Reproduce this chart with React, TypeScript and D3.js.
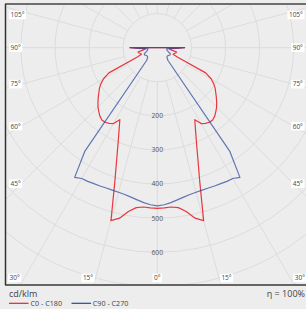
import React from "react";
import * as d3 from "d3";

// ---- data (angle from nadir in degrees, intensity in cd/klm) ----
const redAngles = [0, 2.5, 5, 7.5, 10, 12.5, 15, 17.5, 20, 22.5, 25, 27.5, 30, 32.5, 35, 37.5, 40, 42.5, 45, 47.5, 50, 52.5, 55, 57.5, 60, 62.5, 65, 67.5, 70, 72.5, 75, 77.5, 80, 82.5, 85, 87.5, 90, 92.5];
const redValues = [471, 470, 469, 473, 488, 512, 525, 415, 348, 300, 265, 238, 257, 263, 267, 267, 262, 254, 246, 236, 226, 216, 207, 196, 182, 160, 66, 50, 52, 54, 57, 58, 45, 38, 35, 55, 80, 0];

const blueAngles = [0, 2.5, 5, 7.5, 10, 12.5, 15, 17.5, 20, 22.5, 25, 27.5, 30, 32.5, 35, 40, 42.5, 45, 50, 55, 60, 65, 70, 75, 80, 85, 87.5, 90, 92.5];
const blueValues = [464, 461, 456, 450, 445, 441, 439, 438, 438, 439, 440, 442, 443, 451, 370, 48, 44, 40, 38, 40, 43, 42, 34, 30, 28, 28, 55, 80, 0];

const ringValues = [100, 200, 300, 400, 500, 600, 700, 800, 900, 1000];
const ringLabels = [200, 300, 400, 500, 600];
const spokeAngles = d3.range(0, 360, 15);
const sideLabelAngles = [105, 90, 75, 60, 45];
const bottomLabelAngles = [30, 15, 0];

const seriesNames = ["C0 - C180", "C90 - C270"];
const unitLabel = "cd/klm";
const efficiencyLabel = "η = 100%";

const W = 306;
const H = 309;
const cx = 157.3;
const cy = 47.7;
const frame = { x0: 5.5, y0: 4, x1: 311, y1: 285 };
const RED = "#e8222a";
const BLUE = "#2b479c";
const BG = "#ededed";
const GRID = "#dcdcdc";
const FONT = "'Open Sans', 'DejaVu Sans', sans-serif";

const r = d3.scaleLinear().domain([0, 100]).range([0, 34.1]);

function curvePath(angles: number[], values: number[]) {
  // signed angle: negative = left half (C180 / C270), positive = right half
  const pts: [number, number][] = [];
  for (let i = angles.length - 1; i >= 0; i--) pts.push([-angles[i], values[i]]);
  for (let i = 1; i < angles.length; i++) pts.push([angles[i], values[i]]);
  const line = d3
    .lineRadial<[number, number]>()
    .angle((d) => Math.PI - (d[0] * Math.PI) / 180)
    .radius((d) => r(d[1]))
    .curve(d3.curveLinear);
  return line(pts) || "";
}

function labelWidth(t: string) {
  let w = 0;
  for (const ch of t) w += ch === "°" ? 2.8 : 3.75;
  return w + 3;
}

function AngleLabel({ x, y, text, anchor }: { x: number; y: number; text: string; anchor: "start" | "end" | "middle" }) {
  const w = labelWidth(text);
  const left = anchor === "start" ? x : anchor === "end" ? x - w : x - w / 2;
  return (
    <g>
      <rect x={left} y={y - 4.3} width={w} height={8.6} fill="#ffffff" />
      <text x={left + 1.5} y={y + 2.3} fontSize={6.5} fill="#444" fontFamily={FONT}>
        {text}
      </text>
    </g>
  );
}

export default function App() {
  const rad = (a: number) => (a * Math.PI) / 180;
  const sideD = 136;
  const sideLabels: React.ReactNode[] = [];
  sideLabelAngles.forEach((a) => {
    let y = cy + sideD / Math.tan(rad(a));
    if (a === 90) y = cy;
    y = Math.max(15, y);
    sideLabels.push(<AngleLabel key={"l" + a} x={9} y={y} text={a + "°"} anchor="start" />);
    sideLabels.push(<AngleLabel key={"r" + a} x={304.5} y={y} text={a + "°"} anchor="end" />);
  });
  const bottomLabels: React.ReactNode[] = [];
  bottomLabelAngles.forEach((a) => {
    const dx = (frame.y1 - cy) * Math.tan(rad(a));
    const y = 278;
    if (a === 0) {
      bottomLabels.push(<AngleLabel key={"b0"} x={cx} y={y} text={"0°"} anchor="middle" />);
    } else {
      bottomLabels.push(<AngleLabel key={"bl" + a} x={cx - dx + 1} y={y} text={a + "°"} anchor="end" />);
      bottomLabels.push(<AngleLabel key={"br" + a} x={cx + dx - 1} y={y} text={a + "°"} anchor="start" />);
    }
  });

  return (
    <svg
      width={W}
      height={H}
      style={{ position: "absolute", left: 0, top: 0, display: "block", background: BG }}
    >
      <defs>
        <clipPath id="plotClip">
          <rect x={frame.x0} y={frame.y0} width={frame.x1 - frame.x0} height={frame.y1 - frame.y0} />
        </clipPath>
      </defs>
      <rect x={0} y={0} width={W} height={H} fill={BG} />
      <g clipPath="url(#plotClip)">
        <g transform={`translate(${cx},${cy})`}>
          {ringValues.map((v) => (
            <circle key={v} r={r(v)} fill="none" stroke={GRID} strokeWidth={1} />
          ))}
          {spokeAngles.map((a) => {
            const s = Math.sin(rad(a));
            const c = Math.cos(rad(a));
            return (
              <line
                key={a}
                x1={r(100) * s}
                y1={r(100) * c}
                x2={r(1200) * s}
                y2={r(1200) * c}
                stroke={GRID}
                strokeWidth={1}
              />
            );
          })}
          {ringLabels.map((v) => (
            <text
              key={v}
              x={0}
              y={r(v)}
              dy="0.35em"
              textAnchor="middle"
              fontSize={6.8}
              fill="#555"
              fontFamily={FONT}
            >
              {v}
            </text>
          ))}
          <path d={curvePath(redAngles, redValues)} fill="none" stroke={RED} strokeWidth={1.2} strokeOpacity={0.9} strokeLinejoin="round" />
          <path d={curvePath(blueAngles, blueValues)} fill="none" stroke={BLUE} strokeWidth={1.2} strokeOpacity={0.72} strokeLinejoin="round" />
        </g>
        {sideLabels}
        {bottomLabels}
      </g>
      {/* frame */}
      <line x1={frame.x0 - 0.5} y1={frame.y0} x2={W} y2={frame.y0} stroke="#6e6e6e" strokeWidth={2} />
      <line x1={frame.x0 - 0.5} y1={frame.y1} x2={W} y2={frame.y1} stroke="#666" strokeWidth={2} />
      <line x1={frame.x0} y1={frame.y0} x2={frame.x0} y2={frame.y1} stroke="#333" strokeWidth={1.5} />
      {/* legend */}
      <text x={9} y={297} fontSize={9} fill="#444" fontFamily={FONT}>
        {unitLabel}
      </text>
      <text x={305} y={297} fontSize={9} fill="#444" fontFamily={FONT} textAnchor="end">
        {efficiencyLabel}
      </text>
      <line x1={9} y1={303.3} x2={28.5} y2={303.3} stroke={RED} strokeWidth={1.2} />
      <text x={30.5} y={305.8} fontSize={7.2} fill="#444" fontFamily={FONT}>
        {seriesNames[0]}
      </text>
      <line x1={71.5} y1={303.3} x2={91} y2={303.3} stroke={BLUE} strokeWidth={1.2} />
      <text x={92.8} y={305.8} fontSize={7.2} fill="#444" fontFamily={FONT}>
        {seriesNames[1]}
      </text>
    </svg>
  );
}
